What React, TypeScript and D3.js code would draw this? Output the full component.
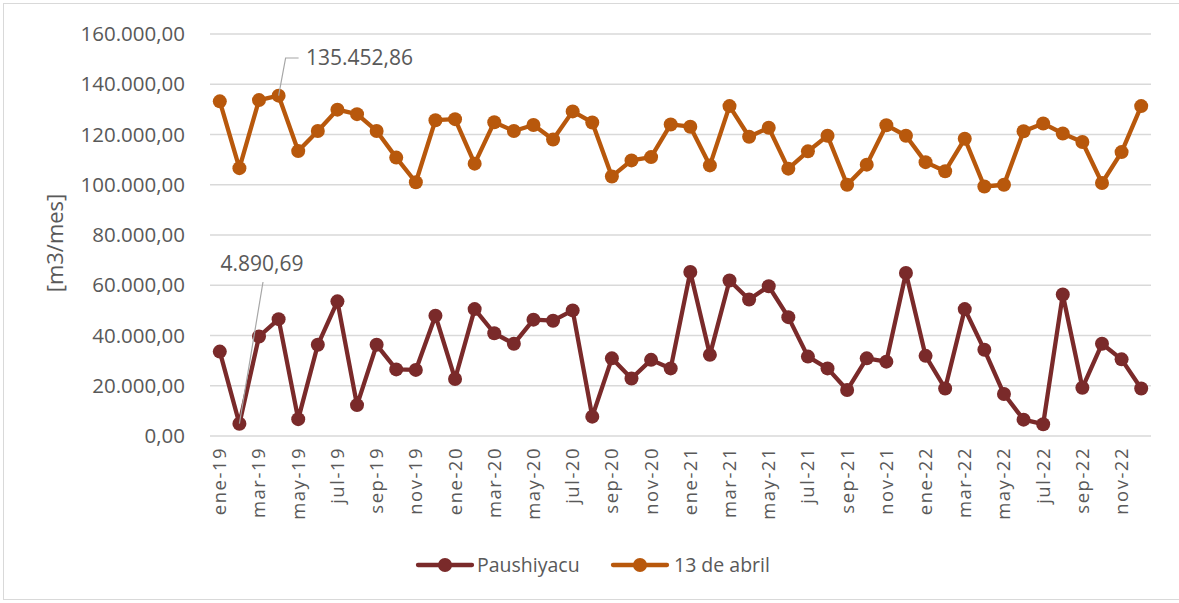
import React, { useRef, useEffect } from 'react';
import * as d3 from 'd3';

const months = [
  'ene-19', 'feb-19', 'mar-19', 'abr-19', 'may-19', 'jun-19', 'jul-19', 'ago-19', 'sep-19', 'oct-19', 'nov-19', 'dic-19',
  'ene-20', 'feb-20', 'mar-20', 'abr-20', 'may-20', 'jun-20', 'jul-20', 'ago-20', 'sep-20', 'oct-20', 'nov-20', 'dic-20',
  'ene-21', 'feb-21', 'mar-21', 'abr-21', 'may-21', 'jun-21', 'jul-21', 'ago-21', 'sep-21', 'oct-21', 'nov-21', 'dic-21',
  'ene-22', 'feb-22', 'mar-22', 'abr-22', 'may-22', 'jun-22', 'jul-22', 'ago-22', 'sep-22', 'oct-22', 'nov-22', 'dic-22',
];

const paushiyacu = [
  33600, 4890.69, 39600, 46500, 6700, 36300, 53600, 12300, 36300, 26500, 26300, 47900,
  22700, 50500, 40900, 36700, 46300, 45900, 50000, 7700, 30900, 22900, 30300, 26900,
  65300, 32300, 61900, 54300, 59600, 47300, 31600, 26900, 18300, 30900, 29600, 64900,
  31900, 18900, 50500, 34300, 16700, 6500, 4700, 56300, 19200, 36700, 30500, 18900,
];

const abril13 = [
  133200, 106600, 133700, 135452.86, 113400, 121400, 129900, 128100, 121400, 110800, 101000, 125700,
  126100, 108400, 124900, 121400, 123800, 118000, 129200, 124800, 103300, 109700, 111000, 124000,
  123100, 107700, 131300, 119100, 122700, 106400, 113300, 119500, 100000, 108000, 123700, 119500,
  109000, 105400, 118300, 99300, 100000, 121300, 124400, 120400, 117000, 100700, 113000, 131300,
];

const yTicks = [0, 20000, 40000, 60000, 80000, 100000, 120000, 140000, 160000];

const series = [
  { name: 'Paushiyacu', values: paushiyacu, color: '#7A2A2A' },
  { name: '13 de abril', values: abril13, color: '#B8580C' },
];

const esLocale = d3.formatLocale({ decimal: ',', thousands: '.', grouping: [3], currency: ['', ''] });
const fmt = esLocale.format(',.2f');

export default function App() {
  const ref = useRef<SVGSVGElement | null>(null);

  useEffect(() => {
    if (!ref.current) return;
    const svg = d3.select(ref.current);
    svg.selectAll('*').remove();

    const W = 1179, H = 603;
    const left = 210, right = 1151, top = 34, bottom = 436;
    const font = "'Open Sans', sans-serif";
    const textColor = '#595959';

    svg.append('rect')
      .attr('x', 3.5).attr('y', 3.5)
      .attr('width', W - 2).attr('height', H - 7)
      .attr('fill', '#fff').attr('stroke', '#d9d9d9');

    const x = d3.scaleBand<string>().domain(months).range([left, right]).padding(0);
    const y = d3.scaleLinear().domain([0, 160000]).range([bottom, top]);
    const cx = (m: string) => (x(m) as number) + x.bandwidth() / 2;

    // gridlines + y labels
    const grid = svg.append('g');
    yTicks.forEach(t => {
      grid.append('line')
        .attr('x1', left).attr('x2', right)
        .attr('y1', y(t)).attr('y2', y(t))
        .attr('stroke', '#d9d9d9').attr('stroke-width', 1.3);
      grid.append('text')
        .attr('x', 185).attr('y', y(t))
        .attr('dy', '0.35em')
        .attr('text-anchor', 'end')
        .attr('font-family', font).attr('font-size', 20.5)
        .attr('fill', textColor)
        .text(fmt(t));
    });

    svg.append('text')
      .attr('transform', `translate(55,243) rotate(-90)`)
      .attr('text-anchor', 'middle').attr('dy', '0.35em')
      .attr('font-family', font).attr('font-size', 22)
      .attr('fill', textColor)
      .text('[m3/mes]');

    // x labels every other month
    months.forEach((m, i) => {
      if (i % 2 !== 0) return;
      svg.append('text')
        .attr('transform', `translate(${cx(m)},447) rotate(-90)`)
        .attr('text-anchor', 'end').attr('dy', '0.35em')
        .attr('font-family', font).attr('font-size', 18.5)
        .attr('letter-spacing', 1.5)
        .attr('fill', textColor)
        .text(m);
    });

    // series
    series.forEach(s => {
      const line = d3.line<number>()
        .x((_, i) => cx(months[i]))
        .y(d => y(d));
      svg.append('path')
        .datum(s.values)
        .attr('fill', 'none')
        .attr('stroke', s.color)
        .attr('stroke-width', 4.3)
        .attr('stroke-linejoin', 'round')
        .attr('d', line);
      svg.append('g').selectAll('circle')
        .data(s.values)
        .join('circle')
        .attr('cx', (_, i) => cx(months[i]))
        .attr('cy', d => y(d))
        .attr('r', 7)
        .attr('fill', s.color);
    });

    // data labels with leader lines
    const maxIdx = 3;
    const px = cx(months[maxIdx]), py = y(abril13[maxIdx]);
    svg.append('polyline')
      .attr('points', `${px},${py} ${px + 7},58 ${px + 20},58`)
      .attr('fill', 'none').attr('stroke', '#a6a6a6').attr('stroke-width', 1.2);
    svg.append('text')
      .attr('x', 306).attr('y', 58).attr('dy', '0.35em')
      .attr('font-family', font).attr('font-size', 21)
      .attr('fill', textColor)
      .text(fmt(abril13[maxIdx]));

    const minIdx = 1;
    const qx = cx(months[minIdx]), qy = y(paushiyacu[minIdx]);
    svg.append('line')
      .attr('x1', qx).attr('y1', qy).attr('x2', 263).attr('y2', 282)
      .attr('stroke', '#a6a6a6').attr('stroke-width', 1.2);
    svg.append('text')
      .attr('x', 262).attr('y', 264).attr('dy', '0.35em')
      .attr('text-anchor', 'middle')
      .attr('font-family', font).attr('font-size', 21)
      .attr('fill', textColor)
      .text(fmt(paushiyacu[minIdx]));

    // legend
    const legendItems = [
      { s: series[0], x0: 418, tx: 477 },
      { s: series[1], x0: 613, tx: 674 },
    ];
    legendItems.forEach(({ s, x0, tx }) => {
      svg.append('line')
        .attr('x1', x0).attr('x2', x0 + 54).attr('y1', 565).attr('y2', 565)
        .attr('stroke', s.color).attr('stroke-width', 4.3).attr('stroke-linecap', 'round');
      svg.append('circle')
        .attr('cx', x0 + 27).attr('cy', 565).attr('r', 7).attr('fill', s.color);
      svg.append('text')
        .attr('x', tx).attr('y', 565).attr('dy', '0.35em')
        .attr('font-family', font).attr('font-size', 19.5)
        .attr('fill', textColor)
        .text(s.name);
    });
  }, []);

  return (
    <svg
      ref={ref}
      width={1179}
      height={603}
      style={{ position: 'absolute', left: 0, top: 0, background: '#fff' }}
    />
  );
}
